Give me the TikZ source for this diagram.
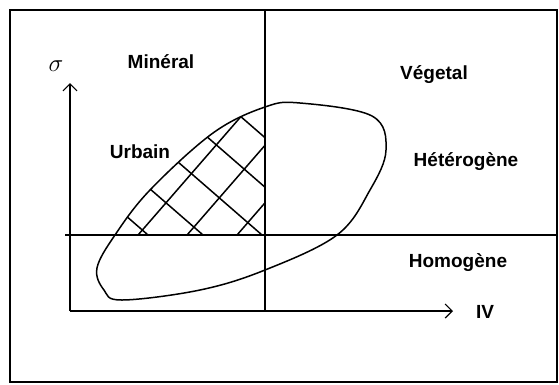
\documentclass[tikz,border=0pt]{standalone}
\usepackage{fontspec}
\setmainfont{Liberation Sans}
\usepackage{tikz}
\usetikzlibrary{arrows.meta, positioning}

\begin{document}
\begin{tikzpicture}[
    x=1pt, y=-1pt,
    frame/.style={line width=1.6pt},
    divider/.style={line width=1.2pt},
    axis/.style={-{Straight Barb[length=7pt, width=14pt, line width=1.2pt]}, line width=1.2pt},
    blob/.style={line width=1.5pt},
    hatch/.style={line width=1.5pt},
    label/.style={font=\fontsize{19}{22}\selectfont\bfseries, anchor=base, inner sep=0pt}
]
\useasboundingbox (0,0) rectangle (559,384);
% outer frame
\draw[frame] (10,10) rectangle (557,382);

% axes and dividing lines
\coordinate (origin) at (70,311);
\coordinate (ytip) at (70,83);
\coordinate (xtip) at (453,311);
\coordinate (vtop) at (265,10);
\coordinate (vbot) at (265,311);
\coordinate (hleft) at (65,235);
\coordinate (hright) at (557,235);
\draw[axis] (origin) -- (ytip);
\draw[axis] (origin) -- (xtip);
\draw[divider] (vtop) -- (vbot);
\draw[divider] (hleft) -- (hright);

% the closed domain
\def\blobpts{(97,268) (104,290) (122,300) (200,290) (265,270) (337,235) (370,190) (386,150) (372,116) (300,103) (265,107) (213,133) (150,190) (115,235)}
\draw[blob] plot[smooth cycle, tension=0.6] coordinates {\blobpts};

% cross hatching (urban part)
\begin{scope}
    \clip (60,10) rectangle (265,235);
    \clip plot[smooth cycle, tension=0.6] coordinates {\blobpts};
    \foreach \x in {138,187,237} {
        \draw[hatch] (\x-13,250) -- ++(0.656*250,-0.755*250);
    }
    \foreach \x in {148,203,262,320,377} {
        \draw[hatch] (\x+15,248) -- ++(-0.755*300,-0.656*300);
    }
\end{scope}

% labels
\node[font=\fontsize{30}{30}\selectfont, inner sep=0pt] (sigma) at (56,66) {$\sigma$};
\node[label] (mineral) at (161,68) {Minéral};
\node[label] (vegetal) at (434,79) {Végetal};
\node[label] (urbain) at (140,158) {Urbain};
\node[label] (hetero) at (466,166) {Hétérogène};
\node[label] (homo) at (458,267) {Homogène};
\node[label] (iv) at (485,318) {IV};
\end{tikzpicture}
\end{document}
